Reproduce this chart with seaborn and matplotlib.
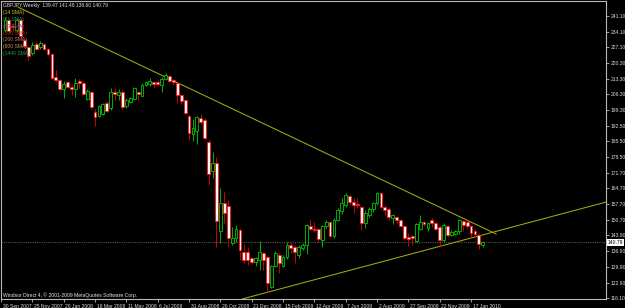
import numpy as np
import pandas as pd
import matplotlib
matplotlib.use("Agg")
import matplotlib.pyplot as plt
import matplotlib.dates as mdates
import matplotlib.transforms as mtransforms
import seaborn as sns

# GBPJPY weekly candles (first candle = week of 7 Oct 2007)
first_week = "2007-10-07"
opens = [234.8, 239.2, 236.5, 234.8, 239.2, 230.3, 227.2, 224.6, 228.6, 227.3,
         228.6, 226.4, 224.1, 214.0, 212.6, 208.7, 211.8, 209.6, 208.7, 212.2,
         211.3, 204.2, 207.3, 198.5, 196.7, 197.6, 202.5, 200.3, 207.3, 206.0,
         207.3, 201.2, 203.0, 204.2, 207.3, 205.6, 210.4, 210.9, 211.8, 211.8,
         210.4, 213.1, 214.4, 212.6, 211.3, 206.0, 203.8, 196.7, 188.7, 190.1,
         195.8, 194.9, 185.2, 172.3, 175.9, 145.9, 158.2, 156.9, 140.5, 142.8,
         146.3, 136.5, 136.5, 133.9, 132.1, 133.0, 136.1, 134.3, 120.9, 130.3,
         135.2, 130.3, 134.3, 139.6, 138.7, 135.2, 138.3, 139.6, 148.1, 146.8,
         146.8, 141.9, 148.1, 149.8, 143.7, 150.7, 154.6, 157.3, 161.3, 158.6,
         157.8, 156.4, 149.3, 152.9, 155.5, 158.2, 162.6, 156.4, 155.5, 151.6,
         152.0, 150.7, 148.1, 143.2, 143.7, 141.4, 146.8, 149.8, 147.2, 150.7,
         149.3, 147.6, 141.9, 148.1, 144.1, 144.5, 145.9, 150.2, 149.8, 148.1,
         145.9, 144.1, 139.47]
highs = [240.5, 239.6, 238.0, 240.1, 240.1, 230.8, 227.7, 229.5, 229.5, 229.9,
         229.0, 226.8, 224.6, 217.1, 213.1, 212.2, 212.2, 210.4, 213.5, 213.1,
         212.2, 208.7, 207.8, 199.8, 201.6, 202.5, 203.4, 209.1, 209.1, 208.7,
         208.2, 204.7, 205.1, 209.6, 207.8, 211.3, 212.2, 213.5, 212.2, 212.6,
         214.0, 215.7, 214.9, 213.1, 211.8, 206.5, 204.2, 197.2, 195.4, 196.7,
         197.6, 195.8, 186.1, 180.7, 178.5, 164.9, 163.1, 159.5, 147.6, 148.5,
         147.2, 140.1, 138.7, 134.3, 134.3, 141.4, 136.5, 135.2, 130.7, 137.0,
         136.1, 135.2, 141.0, 141.0, 139.6, 139.6, 140.5, 148.9, 151.1, 149.8,
         147.2, 148.5, 150.7, 150.2, 151.6, 156.0, 160.4, 162.6, 161.7, 160.4,
         160.4, 156.9, 155.1, 156.4, 158.6, 163.1, 163.1, 157.3, 156.4, 153.4,
         152.4, 151.1, 148.5, 144.9, 144.1, 149.3, 152.9, 150.2, 149.8, 151.6,
         149.8, 148.5, 149.3, 148.5, 146.3, 146.3, 151.1, 150.7, 150.2, 148.5,
         146.8, 144.9, 141.48]
lows = [233.9, 233.4, 234.5, 233.9, 231.2, 226.8, 221.5, 223.7, 225.9, 226.4,
        225.9, 223.3, 213.1, 211.8, 208.2, 204.7, 209.1, 206.0, 205.1, 209.1,
        206.0, 203.8, 199.8, 192.3, 196.3, 197.2, 198.5, 199.4, 203.8, 203.8,
        199.8, 200.3, 202.5, 203.8, 203.8, 205.6, 209.9, 209.9, 209.1, 210.0,
        207.3, 212.6, 211.8, 210.4, 202.5, 202.0, 197.6, 186.1, 185.6, 184.3,
        193.2, 186.1, 166.2, 169.3, 138.7, 140.5, 149.3, 138.7, 139.6, 141.0,
        133.0, 131.6, 130.8, 131.2, 130.3, 128.6, 128.6, 118.8, 120.5, 129.9,
        127.3, 129.9, 133.4, 136.1, 131.6, 133.9, 137.4, 135.6, 146.3, 145.4,
        141.0, 138.7, 147.2, 143.2, 142.8, 150.2, 153.4, 156.4, 157.3, 153.8,
        156.0, 146.3, 147.2, 152.0, 154.2, 157.3, 156.0, 152.9, 150.7, 148.9,
        149.3, 147.6, 141.9, 139.2, 139.6, 141.0, 146.3, 148.1, 145.9, 147.6,
        146.3, 138.7, 141.0, 143.2, 143.7, 144.1, 144.5, 145.9, 146.8, 143.2,
        143.2, 137.9, 138.60]
closes = [239.2, 234.3, 236.0, 239.2, 232.1, 227.7, 223.3, 228.1, 226.4, 229.0,
          226.4, 224.1, 213.5, 212.6, 208.7, 210.9, 209.6, 208.7, 211.3, 211.3,
          206.5, 207.8, 200.7, 196.3, 201.2, 202.0, 198.9, 207.3, 206.5, 207.3,
          200.7, 203.8, 204.7, 209.1, 206.5, 210.4, 211.8, 212.2, 210.9, 210.9,
          213.1, 214.9, 212.2, 211.8, 206.0, 203.4, 198.0, 189.2, 191.4, 196.3,
          194.1, 187.0, 171.1, 175.9, 150.2, 158.2, 153.8, 142.8, 142.8, 146.8,
          137.4, 133.0, 133.0, 132.1, 133.9, 136.5, 133.0, 122.8, 130.3, 136.1,
          131.7, 134.3, 139.6, 138.3, 136.5, 138.7, 139.6, 148.5, 146.8, 146.3,
          142.3, 148.1, 149.8, 143.7, 150.7, 155.1, 158.2, 161.7, 158.6, 157.3,
          157.3, 149.3, 153.8, 155.5, 158.2, 162.6, 156.4, 155.1, 152.0, 152.9,
          150.7, 148.1, 142.8, 142.3, 142.8, 148.9, 149.8, 148.9, 149.3, 149.3,
          146.8, 141.9, 148.5, 144.1, 145.4, 145.9, 150.7, 148.5, 148.1, 145.0,
          144.5, 140.1, 140.79]

header = "GBPJPY,Weekly  139.47 141.48 138.60 140.79"
last_price = 140.79
price_ticks = [241.10, 234.10, 227.10, 220.30, 213.30, 206.30, 199.30, 192.50,
               185.50, 178.50, 171.70, 164.70, 157.70, 150.70, 143.90, 136.90,
               129.90, 122.90, 116.10]
date_ticks = ["2007-09-30", "2007-11-25", "2008-01-20", "2008-03-16", "2008-05-11",
              "2008-07-06", "2008-08-31", "2008-10-26", "2008-12-21", "2009-02-15",
              "2009-04-12", "2009-06-07", "2009-08-02", "2009-09-27", "2009-11-22",
              "2010-01-17"]
date_labels = ["30 Sep 2007", "25 Nov 2007", "20 Jan 2008", "16 Mar 2008", "11 May 2008",
               "6 Jul 2008", "31 Aug 2008", "26 Oct 2008", "21 Dec 2008", "15 Feb 2009",
               "12 Apr 2009", "7 Jun 2009", "2 Aug 2009", "27 Sep 2009", "22 Nov 2009",
               "17 Jan 2010"]
sma_labels = ["(14 SMA)", "(21 SMA)", "(50 SMA)", "(100 SMA)", "(200 SMA)", "(800 SMA)", "(1440 SMA)"]
sma_colors = ["#c8c800", "#2e8b57", "#8b2e8b", "#b22222", "#c87860", "#d08a60", "#2f9a3a"]

# hand drawn trendlines (date, price)
trend_down_dates = ["2007-10-30", "2010-03-03"]
trend_down_prices = [244.95, 144.5]
trend_up_dates = ["2008-12-04", "2010-10-24"]
trend_up_prices = [115.75, 161.2]

footer = "Windsor Direct 4, \u00a9 2001-2009 MetaQuotes Software Corp."

sns.set_theme(style="dark", rc={"axes.facecolor": "black", "figure.facecolor": "black"})
plt.rcParams["font.family"] = ["Liberation Sans", "DejaVu Sans"]
FS = 3.6

df = pd.DataFrame({"open": opens, "high": highs, "low": lows, "close": closes})
df["date"] = pd.date_range(first_week, periods=len(df), freq="7D")
df["x"] = mdates.date2num(df["date"])
df["bull"] = df["close"] >= df["open"]

fig = plt.figure(figsize=(6.25, 3.08), dpi=100)
ax = fig.add_axes([1 / 625, 9 / 308, 605 / 625, 298 / 308])
ax.set_facecolor("black")

x0 = mdates.date2num(pd.Timestamp("2007-09-30"))
ax.set_xlim(x0, x0 + 154.45 * 7)
ax.set_ylim(115.75, 247.6)

# last price line
ax.axhline(last_price, color="#555555", lw=0.8, ls=(0, (1, 1)), zorder=1)

# trendlines
td = pd.DataFrame({"x": mdates.date2num(pd.to_datetime(trend_down_dates)), "y": trend_down_prices})
tu = pd.DataFrame({"x": mdates.date2num(pd.to_datetime(trend_up_dates)), "y": trend_up_prices})
sns.lineplot(data=td, x="x", y="y", ax=ax, color="#a8a812", lw=0.75, zorder=2)
sns.lineplot(data=tu, x="x", y="y", ax=ax, color="#a8a812", lw=0.75, zorder=2)

bull = df[df["bull"]]
bear = df[~df["bull"]]
w = 7 * 0.72
ax.vlines(bull["x"], bull["low"], bull["high"], color="#00b400", lw=0.7, zorder=3)
ax.vlines(bear["x"], bear["low"], bear["high"], color="#d00000", lw=0.7, zorder=3)
ax.bar(bull["x"], bull["close"] - bull["open"], bottom=bull["open"], width=w,
       facecolor="black", edgecolor="#00c800", lw=0.6, zorder=4)
ax.bar(bear["x"], bear["open"] - bear["close"], bottom=bear["close"], width=w,
       facecolor="#fff4f4", edgecolor="#ff1010", lw=0.6, zorder=4)

# axes styling
for s in ax.spines.values():
    s.set_visible(True)
    s.set_color("#b8b8b8")
    s.set_linewidth(0.8)
ax.grid(False)
ax.set_xlabel("")
ax.set_ylabel("")
ax.yaxis.tick_right()
ax.set_yticks(price_ticks)
ax.set_yticklabels([f"{p:.2f}" for p in price_ticks])
ax.set_xticks(mdates.date2num(pd.to_datetime(date_ticks)))
ax.set_xticklabels(date_labels, ha="left")
ax.tick_params(axis="both", direction="out", length=2.5, width=0.6, color="#b8b8b8",
               labelsize=FS, labelcolor="#dcdcdc", pad=1)
ax.tick_params(axis="y", left=False, right=True)
ax.tick_params(axis="x", bottom=True)
offset = mtransforms.ScaledTranslation(1.5 / 100, 0, fig.dpi_scale_trans)
for lab in ax.get_xticklabels():
    lab.set_transform(lab.get_transform() + offset)

# last price box
ax.text(1.003, last_price, f"{last_price:.2f}", transform=ax.get_yaxis_transform(),
        fontsize=FS, color="black", va="center", ha="left",
        bbox=dict(facecolor="white", edgecolor="none", pad=0.7), zorder=6, clip_on=False)

# header and indicator labels
ax.text(0.004, 0.985, header, transform=ax.transAxes, fontsize=FS, color="#dcdcdc",
        va="center", ha="left", zorder=5)
for i, (lab, col) in enumerate(zip(sma_labels, sma_colors)):
    ax.text(0.004, 0.961 - i * 0.0228, lab, transform=ax.transAxes, fontsize=FS,
            color=col, va="center", ha="left", zorder=5)

ax.text(0.004, 0.014, footer, transform=ax.transAxes, fontsize=FS, color="#e8e8e8",
        va="center", ha="left", zorder=5)

fig.savefig("out.png", dpi=100, facecolor="black")
